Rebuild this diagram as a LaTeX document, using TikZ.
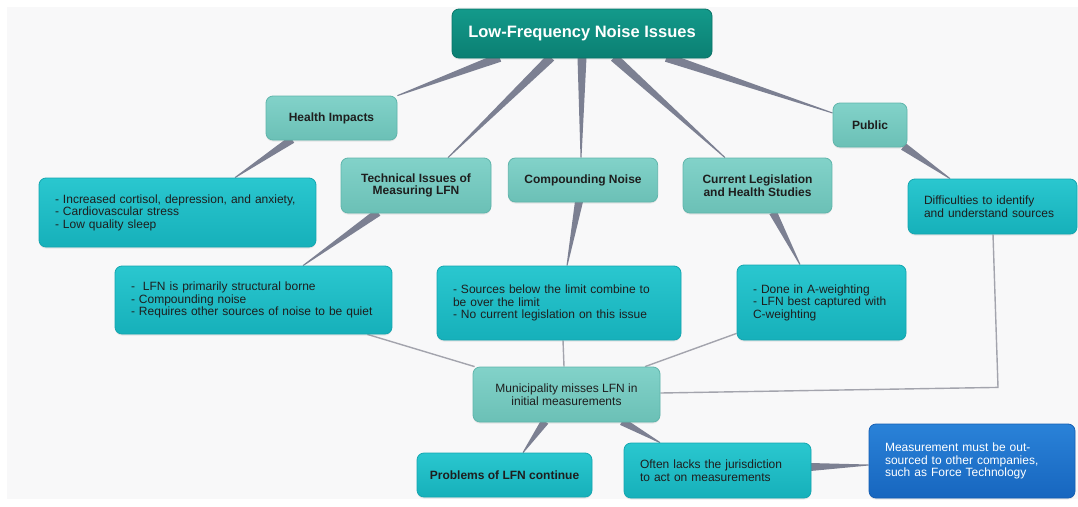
\documentclass[tikz,border=0pt]{standalone}
\usepackage{fontspec}
\setmainfont{Liberation Sans}
\usetikzlibrary{calc,shadows,backgrounds}

\definecolor{pagebg}{HTML}{F8F8F9}
\definecolor{titletop}{HTML}{139A8B}
\definecolor{titlebot}{HTML}{0B7F72}
\definecolor{titleline}{HTML}{0A7468}
\definecolor{lighttop}{HTML}{82D2C9}
\definecolor{lightbot}{HTML}{6BC0B6}
\definecolor{lightline}{HTML}{5FB5AB}
\definecolor{cyantop}{HTML}{2AC7CF}
\definecolor{cyanbot}{HTML}{16B0BA}
\definecolor{cyanline}{HTML}{14A6B0}
\definecolor{bluetop}{HTML}{2A82D8}
\definecolor{bluebot}{HTML}{1766BF}
\definecolor{blueline}{HTML}{155EB3}
\definecolor{wedgegray}{HTML}{7C8092}
\definecolor{linkgray}{HTML}{A3A4AD}
\definecolor{ink}{HTML}{1E1E1E}

\tikzset{
  box/.style={rounded corners=7pt, line width=0.8pt, inner ysep=0pt,
    inner xsep=16pt, text=ink,
    font=\fontsize{12}{12.6}\selectfont,
    drop shadow={shadow xshift=0pt, shadow yshift=-1.5pt, opacity=0.16}},
  titlebox/.style={box, draw=titleline, top color=titletop, bottom color=titlebot,
    text=white, font=\fontsize{16.5}{19}\selectfont\bfseries},
  topic/.style={box, draw=lightline, top color=lighttop, bottom color=lightbot,
    align=center, font=\fontsize{12}{12.6}\selectfont\bfseries},
  plaintopic/.style={box, draw=lightline, top color=lighttop, bottom color=lightbot,
    align=center},
  detail/.style={box, draw=cyanline, top color=cyantop, bottom color=cyanbot,
    align=left},
  boldetail/.style={box, draw=cyanline, top color=cyantop, bottom color=cyanbot,
    align=center, inner xsep=4pt, font=\fontsize{12}{12.6}\selectfont\bfseries},
  outsource/.style={box, draw=blueline, top color=bluetop, bottom color=bluebot,
    align=left, text=white},
  link/.style={draw=linkgray, line width=1.4pt},
}

% tapered connector: wide at the first point, narrow at the second
\newcommand\wedgeconn[3][4]{%
  \fill[wedgegray] ($(#2)!#1pt!90:(#3)$) -- ($(#2)!#1pt!-90:(#3)$)
    -- ($(#3)!0.5pt!90:(#2)$) -- ($(#3)!0.5pt!-90:(#2)$) -- cycle;}

\begin{document}
\begin{tikzpicture}[x=1pt, y=-1pt]
\useasboundingbox (0,0) rectangle (1078,506);

% main topic
\node[titlebox, minimum width=260pt, minimum height=49pt] (title) at (582,33.5) {Low-Frequency Noise Issues};

% sub topics
\node[topic, minimum width=131pt, minimum height=44pt] (health) at (331.5,118) {Health Impacts};
\node[topic, minimum width=150pt, minimum height=55pt] (tech) at (416,185.5) {Technical Issues of\\Measuring LFN};
\node[topic, minimum width=144pt, minimum height=44pt] (comp) at (583,180) {Compounding Noise};
\node[topic, minimum width=149pt, minimum height=55pt] (curr) at (757.5,185.5) {Current Legislation\\and Health Studies};
\node[topic, minimum width=74pt, minimum height=44pt] (public) at (870,125) {Public};

% details
\node[detail, text width=245pt, minimum height=69pt] (hbox) at (177.5,212.5)
  {- Increased cortisol, depression, and anxiety,\\- Cardiovascular stress\\- Low quality sleep};
\node[detail, text width=245pt, minimum height=68pt] (lfn) at (253.5,300)
  {-~ LFN is primarily structural borne\\- Compounding noise\\- Requires other sources of noise to be quiet};
\node[detail, text width=212pt, minimum height=74pt] (src) at (559,303)
  {- Sources below the limit combine to\\be over the limit\\- No current legislation on this issue\\[3pt]};
\node[detail, text width=137pt, minimum height=75pt] (done) at (821.5,302.5)
  {- Done in A-weighting\\- LFN best captured with\\C-weighting\\[3pt]};
\node[detail, text width=137pt, minimum height=55pt] (diff) at (992.5,206.5)
  {Difficulties to identify\\and understand sources};

% consequences
\node[plaintopic, minimum width=187pt, minimum height=55pt] (muni) at (566.5,394.5)
  {Municipality misses LFN in\\initial measurements};
\node[boldetail, minimum width=175pt, minimum height=44pt] (prob) at (504.5,475) {Problems of LFN continue};
\node[detail, text width=155pt, minimum height=55pt] (often) at (717.5,470.5)
  {Often lacks the jurisdiction\\to act on measurements};
\node[outsource, text width=174pt, minimum height=74pt] (meas) at (972,461)
  {Measurement must be out-\\sourced to other companies,\\such as Force Technology\\[3pt]};

% connector end points
\coordinate (t-h) at ($(title.south west)+(48,-1)$);
\coordinate (h-t) at (health.north east);
\coordinate (t-te) at ($(title.south)+(-31,-1)$);
\coordinate (te-t) at ($(tech.north)+(32,0)$);
\coordinate (t-c) at ($(title.south)+(0,-1)$);
\coordinate (c-t) at ($(comp.north)+(-2,0)$);
\coordinate (t-cu) at ($(title.south)+(32,-1)$);
\coordinate (cu-t) at ($(curr.north)+(-32.5,0)$);
\coordinate (t-p) at ($(title.south east)+(-46,-1)$);
\coordinate (p-t) at ($(public.west)+(0,-12)$);
\coordinate (h-hb) at ($(health.south)+(-39.5,-1)$);
\coordinate (hb-h) at ($(hbox.north)+(57.5,0)$);
\coordinate (te-l) at ($(tech.south)+(-38,-1)$);
\coordinate (l-te) at ($(lfn.north)+(49.5,0)$);
\coordinate (c-s) at ($(comp.south)+(-4,-1)$);
\coordinate (s-c) at ($(src.north)+(8,0)$);
\coordinate (cu-d) at ($(curr.south)+(15.5,-1)$);
\coordinate (d-cu) at ($(done.north)+(-21.5,0)$);
\coordinate (p-df) at ($(public.south east)+(-4,-1)$);
\coordinate (df-p) at ($(diff.north)+(-42.5,0)$);
\coordinate (m-pr) at ($(muni.south)+(-21.5,-1)$);
\coordinate (pr-m) at ($(prob.north)+(18.5,0)$);
\coordinate (m-o) at ($(muni.south)+(55.5,-1)$);
\coordinate (o-m) at ($(often.north)+(-57.5,0)$);
\coordinate (o-me) at ($(often.east)+(-1,-3.5)$);
\coordinate (me-o) at ($(meas.west)+(0,4)$);
\coordinate (bend) at ($(diff.south)+(5.5,153)$);

\begin{scope}[on background layer]
  \fill[white] (0,0) rectangle (1078,506);
  \fill[pagebg] (7,7) rectangle (1078,499);
  % tapered branches
  \wedgeconn[4.5]{t-h}{h-t}
  \wedgeconn[4.5]{t-te}{te-t}
  \wedgeconn[4.5]{t-c}{c-t}
  \wedgeconn[4.5]{t-cu}{cu-t}
  \wedgeconn[4.5]{t-p}{p-t}
  \wedgeconn{h-hb}{hb-h}
  \wedgeconn{te-l}{l-te}
  \wedgeconn{c-s}{s-c}
  \wedgeconn{cu-d}{d-cu}
  \wedgeconn{p-df}{df-p}
  \wedgeconn{m-pr}{pr-m}
  \wedgeconn{m-o}{o-m}
  \wedgeconn{o-me}{me-o}
  % plain links into the municipality box
  \draw[link] ($(lfn.south east)+(-25,0)$) -- ($(muni.north west)+(2,0)$);
  \draw[link] ($(src.south)+(4,0)$) -- ($(muni.north)+(-2.5,0)$);
  \draw[link] ($(done.south west)+(0,-7)$) -- ($(muni.north)+(78.5,0)$);
  \draw[link] ($(diff.south)+(0.5,0)$) -- (bend) -- ($(muni.east)+(0,-1.5)$);
\end{scope}
\end{tikzpicture}
\end{document}
